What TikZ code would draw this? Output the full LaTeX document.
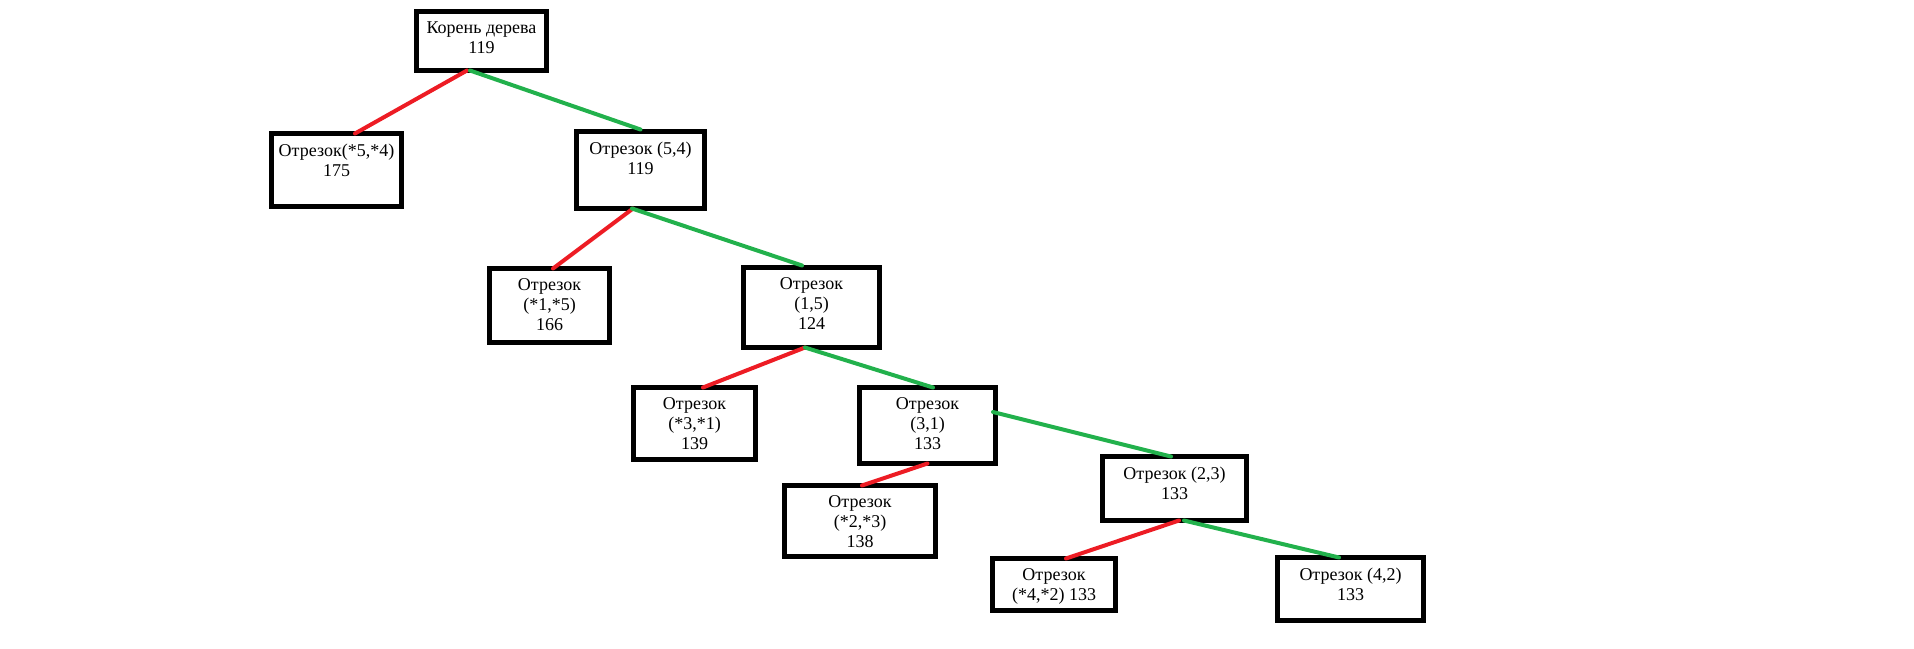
\documentclass[tikz,border=0pt]{standalone}
\usepackage{fontspec}
\setmainfont{Liberation Serif}
\definecolor{paintred}{RGB}{237,28,36}
\definecolor{paintgreen}{RGB}{34,177,76}
\begin{document}
\begin{tikzpicture}[x=1pt,y=-1pt,
	box/.style={draw,line width=5pt,outer sep=0pt,inner sep=0pt},
	txt/.style={anchor=north,align=center,inner sep=0pt,yshift=-10pt,font=\fontsize{18}{20}\selectfont},
	no/.style={draw=paintred,line width=4pt,line cap=round},
	yes/.style={draw=paintgreen,line width=4pt,line cap=round}]
	\useasboundingbox (0,0) rectangle (1914,648);
		% boxes
		\node[box,minimum width=130pt,minimum height=59pt] (root) at (481.5,41) {};
		\node[txt] (roott) at (root.north) {Корень дерева\\119};
		\node[box,minimum width=130pt,minimum height=73pt] (cut54) at (336.5,170) {};
		\node[txt] (cut54t) at (cut54.north) {Отрезок(*5,*4)\\175};
		\node[box,minimum width=128pt,minimum height=77pt] (seg54) at (640.5,170) {};
		\node[txt] (seg54t) at (seg54.north) {Отрезок (5,4)\\119};
		\node[box,minimum width=120pt,minimum height=74pt] (cut15) at (549.5,305.5) {};
		\node[txt] (cut15t) at (cut15.north) {Отрезок\\(*1,*5)\\166};
		\node[box,minimum width=136pt,minimum height=80pt] (seg15) at (811.5,307.5) {};
		\node[txt] (seg15t) at (seg15.north) {Отрезок\\(1,5)\\124};
		\node[box,minimum width=122pt,minimum height=72pt] (cut31) at (694.5,423.5) {};
		\node[txt] (cut31t) at (cut31.north) {Отрезок\\(*3,*1)\\139};
		\node[box,minimum width=136pt,minimum height=76pt] (seg31) at (927.5,425.5) {};
		\node[txt] (seg31t) at (seg31.north) {Отрезок\\(3,1)\\133};
		\node[box,minimum width=151pt,minimum height=71pt] (cut23) at (860,521) {};
		\node[txt] (cut23t) at (cut23.north) {Отрезок\\(*2,*3)\\138};
		\node[box,minimum width=144pt,minimum height=64pt] (seg23) at (1174.5,488.5) {};
		\node[txt] (seg23t) at (seg23.north) {Отрезок (2,3)\\133};
		\node[box,minimum width=123pt,minimum height=52pt] (cut42) at (1054,584.5) {};
		\node[txt] (cut42t) at (cut42.north) {Отрезок\\(*4,*2) 133};
		\node[box,minimum width=146pt,minimum height=63pt] (seg42) at (1350.5,589) {};
		\node[txt] (seg42t) at (seg42.north) {Отрезок (4,2)\\133};
		% edges
		\draw[no] ([xshift=-14.5pt]root.south) -- ([xshift=18.5pt]cut54.north);
		\draw[yes] ([xshift=-11.5pt]root.south) -- ([yshift=2pt]seg54.north);
		\draw[no] ([xshift=-7.5pt]seg54.south) -- ([xshift=3.5pt]cut15.north);
		\draw[yes] ([xshift=-8.5pt]seg54.south) -- ([xshift=-9.5pt,yshift=2pt]seg15.north);
		\draw[no] ([xshift=-6.5pt]seg15.south) -- ([xshift=8.5pt]cut31.north);
		\draw[yes] ([xshift=-6.5pt]seg15.south) -- ([xshift=5.5pt]seg31.north);
		\draw[no] (seg31.south) -- ([xshift=2pt]cut23.north);
		\draw[yes] ([xshift=-2.5pt,yshift=13.5pt]seg31.east) -- ([xshift=-3.5pt]seg23.north);
		\draw[no] ([xshift=4.5pt]seg23.south) -- ([xshift=12pt]cut42.north);
		\draw[yes] ([xshift=9.5pt]seg23.south) -- ([xshift=-11.5pt]seg42.north);
	\end{tikzpicture}
\end{document}
